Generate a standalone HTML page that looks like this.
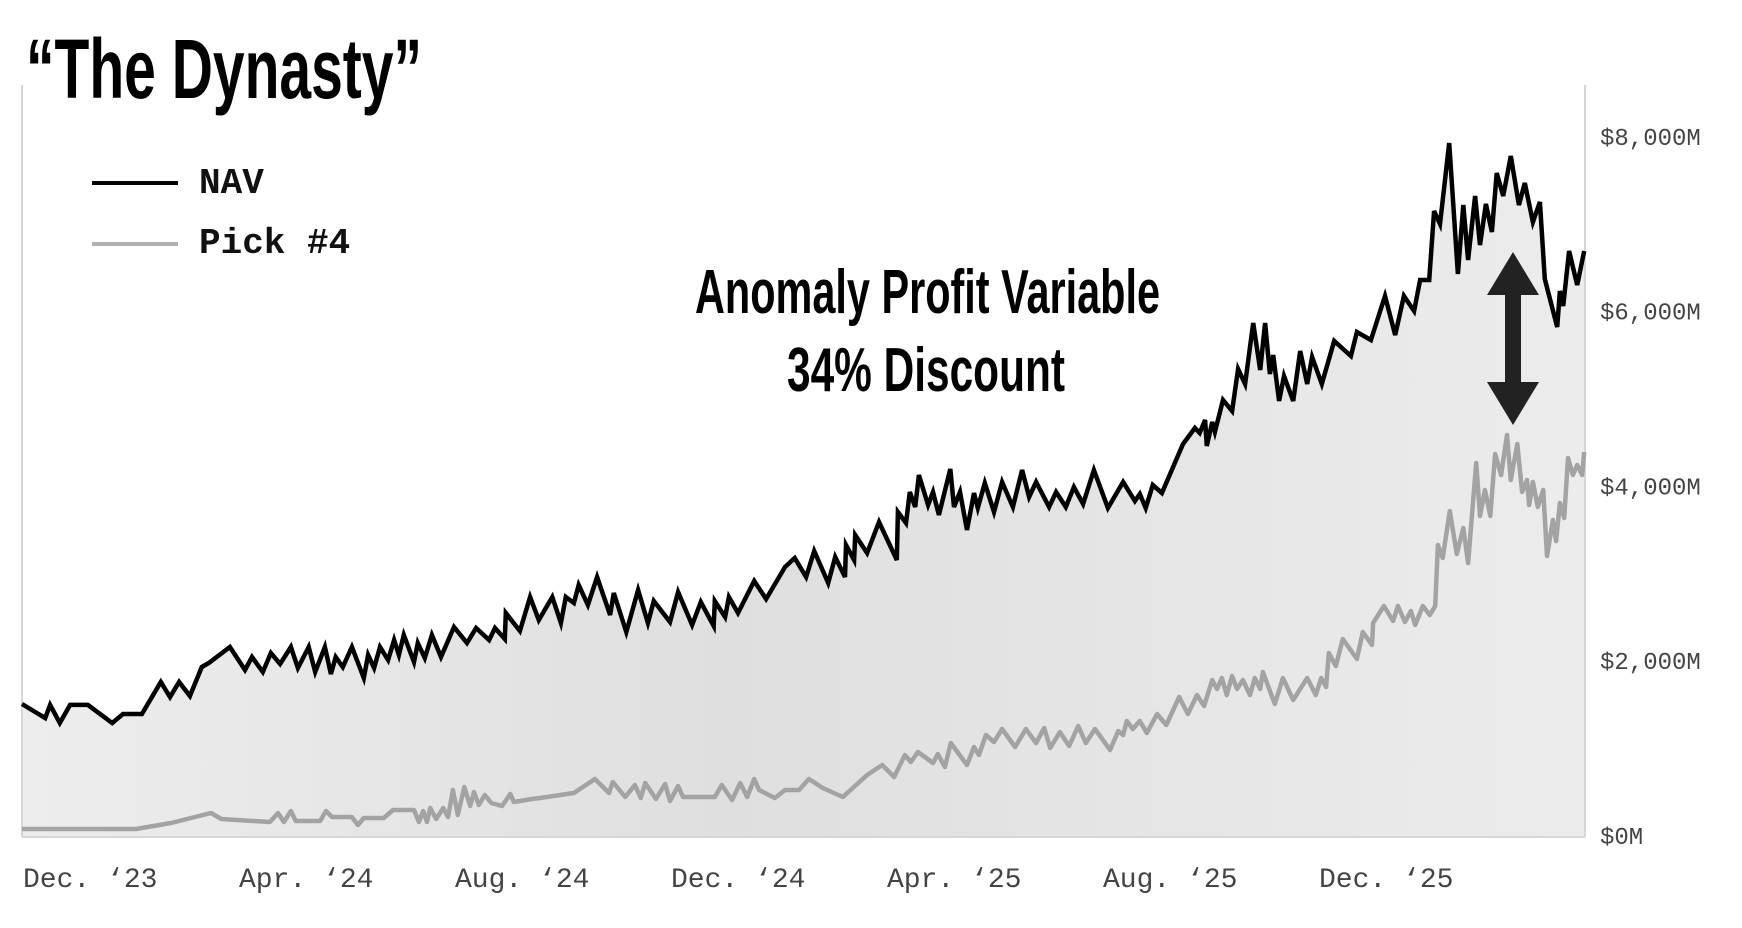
<!DOCTYPE html>
<html><head><meta charset="utf-8"><style>
html,body{margin:0;padding:0;background:#fff;}
svg{display:block;}
</style></head><body>
<svg id="chart" width="1742" height="928" viewBox="0 0 1742 928" xmlns="http://www.w3.org/2000/svg">
<defs>
<linearGradient id="fillGrad" x1="0" y1="0" x2="1" y2="0">
<stop offset="0" stop-color="#ededed"/>
<stop offset="0.45" stop-color="#dfdfdf"/>
<stop offset="1" stop-color="#ececec"/>
</linearGradient>
</defs>
<text x="26" y="98" font-family="'Liberation Sans Narrow','Liberation Sans',sans-serif" font-weight="bold" font-size="84" textLength="396" lengthAdjust="spacingAndGlyphs" fill="#000">“The Dynasty”</text>
<g id="area"></g>
<line x1="22" y1="85" x2="22" y2="837" stroke="#d6d6d6" stroke-width="2"/>
<line x1="1585" y1="85" x2="1585" y2="837" stroke="#d6d6d6" stroke-width="2"/>
<line x1="22" y1="837" x2="1585" y2="837" stroke="#d6d6d6" stroke-width="2"/>
<g id="lines"></g>
<g id="yticks"></g>
<g id="xticks"></g>
<g>
<line x1="92" y1="183" x2="178" y2="183" stroke="#000" stroke-width="4"/>
<text x="199" y="193" font-family="'Liberation Mono',monospace" font-weight="bold" font-size="36" fill="#111">NAV</text>
<line x1="92" y1="244" x2="178" y2="244" stroke="#b0b0b0" stroke-width="4"/>
<text x="199" y="253" font-family="'Liberation Mono',monospace" font-weight="bold" font-size="36" fill="#111">Pick #4</text>
</g>
<text x="695" y="313" font-family="'Liberation Sans Narrow','Liberation Sans',sans-serif" font-weight="bold" font-size="62" textLength="465" lengthAdjust="spacingAndGlyphs" fill="#000">Anomaly Profit Variable</text>
<text x="787" y="391" font-family="'Liberation Sans Narrow','Liberation Sans',sans-serif" font-weight="bold" font-size="62" textLength="278" lengthAdjust="spacingAndGlyphs" fill="#000">34% Discount</text>
<polygon points="1513,252 1539,295 1521,295 1521,382 1539,382 1513,425 1487,382 1505,382 1505,295 1487,295" fill="#222"/>
</svg>
<script>
// months since Dec 1, 2023
const navMonths = [0,0.43,0.52,0.70,0.89,1.22,1.67,1.87,2.22,2.57,2.74,2.91,3.11,3.33,3.46,3.85,4.13,4.26,4.46,4.61,4.78,4.98,5.11,5.31,5.43,5.61,5.72,5.81,5.94,6.11,6.33,6.41,6.52,6.63,6.78,6.89,6.98,7.07,7.26,7.33,7.46,7.59,7.76,8.00,8.24,8.41,8.65,8.76,8.94,8.96,9.22,9.41,9.57,9.82,9.98,10.07,10.22,10.31,10.48,10.65,10.89,10.96,11.19,11.41,11.59,11.70,12.00,12.15,12.41,12.57,12.81,12.83,13.02,13.09,13.26,13.56,13.78,14.13,14.31,14.52,14.67,14.93,15.06,15.24,15.26,15.41,15.43,15.65,15.87,16.20,16.22,16.37,16.44,16.54,16.61,16.78,16.87,16.98,17.19,17.26,17.37,17.50,17.63,17.70,17.83,18.00,18.15,18.35,18.52,18.65,18.78,19.02,19.15,19.33,19.48,19.65,19.85,20.11,20.39,20.61,20.70,20.81,20.94,21.11,21.50,21.72,21.81,21.91,21.94,22.04,22.09,22.24,22.41,22.52,22.65,22.80,22.93,23.02,23.11,23.17,23.28,23.37,23.54,23.67,23.80,23.89,24.07,24.30,24.61,24.72,24.98,25.24,25.43,25.59,25.78,25.89,26.06,26.15,26.26,26.43,26.59,26.69,26.78,26.91,27.00,27.11,27.22,27.31,27.43,27.57,27.72,27.83,27.98,28.11,28.20,28.43,28.48,28.54,28.65,28.80,28.93];
const navValues = [1511,1350,1500,1293,1500,1500,1293,1396,1396,1762,1591,1762,1602,1934,1980,2163,1900,2049,1877,2094,1968,2163,1923,2163,1877,2163,1854,2049,1934,2163,1808,2071,1923,2163,2014,2243,2071,2300,1991,2209,2037,2300,2049,2392,2209,2380,2243,2380,2254,2552,2346,2735,2472,2735,2438,2735,2666,2873,2644,2964,2529,2781,2335,2815,2438,2689,2449,2792,2415,2678,2403,2689,2506,2735,2552,2918,2712,3079,3182,2964,3262,2895,3193,2964,3330,3159,3445,3239,3594,3159,3708,3582,3937,3765,4131,3788,3937,3674,4200,3765,3937,3502,3925,3754,4040,3708,4051,3765,4189,3880,4051,3765,3937,3765,3994,3800,4189,3754,4051,3834,3914,3754,4017,3925,4486,4669,4612,4761,4463,4738,4623,4990,4864,5345,5173,5871,5333,5871,5287,5505,4978,5264,4978,5550,5173,5482,5173,5665,5493,5768,5676,6180,5734,6180,6008,6363,6363,7153,7004,7931,6432,7221,6592,7324,6764,7233,6912,7588,7324,7782,7221,7473,7027,7256,6375,5825,6237,6066,6695,6306,6695];
const pickMonths = [0,2.11,2.76,3.50,3.69,4.59,4.74,4.85,4.98,5.07,5.52,5.63,5.74,6.11,6.22,6.33,6.70,6.87,7.26,7.35,7.43,7.50,7.56,7.67,7.80,7.89,7.98,8.07,8.19,8.30,8.37,8.46,8.57,8.69,8.89,9.04,9.11,9.44,9.59,10.22,10.61,10.87,10.94,11.17,11.35,11.46,11.54,11.74,11.91,12.00,12.15,12.24,12.83,12.96,13.15,13.30,13.43,13.56,13.65,13.94,14.13,14.39,14.57,14.83,15.20,15.65,15.93,16.15,16.35,16.46,16.59,16.87,16.96,17.09,17.20,17.50,17.63,17.72,17.85,18.00,18.15,18.39,18.59,18.78,18.93,19.04,19.22,19.39,19.56,19.70,19.87,20.15,20.30,20.39,20.46,20.57,20.70,20.83,21.02,21.19,21.43,21.59,21.76,21.89,22.04,22.13,22.22,22.31,22.41,22.50,22.61,22.74,22.83,22.93,22.98,23.20,23.35,23.54,23.80,23.96,24.06,24.15,24.20,24.33,24.46,24.72,24.83,25.00,25.02,25.22,25.39,25.48,25.61,25.72,25.80,25.94,26.07,26.17,26.22,26.31,26.44,26.57,26.69,26.78,26.93,27.00,27.09,27.19,27.28,27.39,27.50,27.57,27.69,27.78,27.87,27.91,27.98,28.07,28.17,28.24,28.35,28.41,28.48,28.56,28.63,28.72,28.80,28.89,28.93];
const pickValues = [80,80,149,263,195,160,263,160,286,172,172,286,217,217,126,206,206,298,298,160,286,160,320,195,320,217,526,240,561,343,504,355,469,378,343,481,389,423,435,492,652,492,618,446,584,435,607,423,595,400,572,446,446,584,412,607,446,652,526,435,526,526,652,549,446,698,812,675,927,847,961,835,938,790,1064,812,1018,927,1156,1076,1225,1018,1225,1064,1236,1007,1190,1030,1259,1064,1225,984,1202,1156,1316,1225,1316,1179,1396,1270,1591,1396,1614,1488,1785,1682,1808,1614,1831,1682,1785,1614,1808,1682,1877,1511,1808,1556,1808,1614,1808,1705,2094,1945,2254,2026,2335,2186,2438,2632,2460,2632,2449,2575,2415,2632,2529,2632,3330,3182,3719,3227,3525,3124,4269,3662,3960,3662,4372,4131,4589,4074,4486,3937,4074,3788,4051,3765,3960,3204,3616,3376,3811,3639,4326,4131,4246,4131,4395];
const yTickValues = [0,2000,4000,6000,8000];
const yTickLabels = ["$0M","$2,000M","$4,000M","$6,000M","$8,000M"];
const xTickMonths = [0,4,8,12,16,20,24];
const xTickLabels = ["Dec. ‘23","Apr. ‘24","Aug. ‘24","Dec. ‘24","Apr. ‘25","Aug. ‘25","Dec. ‘25"];

const NS = "http://www.w3.org/2000/svg";
function xScale(m){ return 22 + m * 54; }
function yScale(v){ return 836 - v * 0.08738; }
function pathFrom(ms, vs){
  let d = "";
  for (let i = 0; i < ms.length; i++) d += (i ? "L" : "M") + xScale(ms[i]).toFixed(1) + "," + yScale(vs[i]).toFixed(1);
  return d;
}
const area = document.createElementNS(NS, "path");


area.setAttribute("d", pathFrom(navMonths, navValues) + "L" + xScale(navMonths[navMonths.length-1]).toFixed(1) + "," + yScale(0) + "L" + xScale(navMonths[0]) + "," + yScale(0) + "Z");
area.setAttribute("fill", "url(#fillGrad)");
document.getElementById("area").appendChild(area);

const lines = document.getElementById("lines");
const pick = document.createElementNS(NS, "path");


pick.setAttribute("d", pathFrom(pickMonths, pickValues));
pick.setAttribute("fill", "none");
pick.setAttribute("stroke", "#a3a3a3");
pick.setAttribute("stroke-width", "4.5");
pick.setAttribute("stroke-linejoin", "round");
lines.appendChild(pick);
const nav = document.createElementNS(NS, "path");


nav.setAttribute("d", pathFrom(navMonths, navValues));
nav.setAttribute("fill", "none");
nav.setAttribute("stroke", "#000");
nav.setAttribute("stroke-width", "4.5");
nav.setAttribute("stroke-linejoin", "miter");
lines.appendChild(nav);

const yt = document.getElementById("yticks");
for (let i = 0; i < yTickValues.length; i++){
  const t = document.createElementNS(NS, "text");
  
  
  t.setAttribute("x", 1600);
  t.setAttribute("y", yScale(yTickValues[i]) + 8);
  t.setAttribute("font-family", "'Liberation Mono',monospace");
  t.setAttribute("font-size", "24");
  t.setAttribute("fill", "#444");
  t.textContent = yTickLabels[i];
  yt.appendChild(t);
}
const xt = document.getElementById("xticks");
for (let i = 0; i < xTickMonths.length; i++){
  const t = document.createElementNS(NS, "text");
  
  
  t.setAttribute("x", xScale(xTickMonths[i]) + 1);
  t.setAttribute("y", 887);
  t.setAttribute("font-family", "'Liberation Mono',monospace");
  t.setAttribute("font-size", "28");
  t.setAttribute("fill", "#444");
  t.textContent = xTickLabels[i];
  xt.appendChild(t);
}
</script>
</body></html>
